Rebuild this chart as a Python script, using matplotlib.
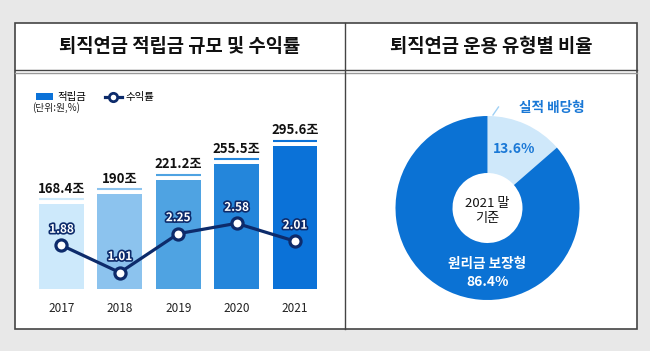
import matplotlib
matplotlib.use("Agg")
import matplotlib.pyplot as plt
import matplotlib.patheffects as pe
from matplotlib.patches import Rectangle, Patch
from matplotlib.lines import Line2D
import numpy as np

plt.rcParams["font.family"] = ["Noto Sans CJK KR", "DejaVu Sans"]

# 데이터
years = ["2017", "2018", "2019", "2020", "2021"]
reserves = [168.4, 190, 221.2, 255.5, 295.6]
reserve_labels = ["168.4조", "190조", "221.2조", "255.5조", "295.6조"]
rates = [1.88, 1.01, 2.25, 2.58, 2.01]
bar_colors = ["#cde9fb", "#8cc3ee", "#4fa3e2", "#2486db", "#0b72d8"]

pie_names = ["실적 배당형", "원리금 보장형"]
pie_values = [13.6, 86.4]
pie_colors = ["#cfe8fa", "#0b72d4"]

navy = "#0d2b6b"
W, H = 650, 351
base = -16.8  # 막대 축의 아래 끝


def fx(x):
    return x / W


def fy(y):
    return 1 - y / H


fig = plt.figure(figsize=(6.5, 3.51), dpi=100)
fig.patch.set_facecolor("#e8e8e8")

# 바깥 상자
fig.add_artist(Rectangle((fx(15), fy(329)), fx(637) - fx(15), fy(23) - fy(329),
                         transform=fig.transFigure, facecolor="white",
                         edgecolor="#444444", linewidth=1.2, zorder=0))
fig.add_artist(Line2D([fx(15), fx(637)], [fy(70), fy(70)], transform=fig.transFigure,
                      color="#444444", linewidth=1.0))
fig.add_artist(Line2D([fx(15), fx(637)], [fy(73), fy(73)], transform=fig.transFigure,
                      color="#999999", linewidth=1.0))
fig.add_artist(Line2D([fx(345), fx(345)], [fy(23), fy(329)], transform=fig.transFigure,
                      color="#444444", linewidth=1.0))

fig.text(fx(180), fy(46), "퇴직연금 적립금 규모 및 수익률", ha="center", va="center",
         fontsize=13.5, fontweight="black", color="#111111")
fig.text(fx(491), fy(46), "퇴직연금 운용 유형별 비율", ha="center", va="center",
         fontsize=13.5, fontweight="black", color="#111111")

# 막대 + 선 그래프
ax = fig.add_axes([fx(32.3), fy(289), fx(324.2) - fx(32.3), fy(80) - fy(289)])
x = np.arange(len(years))
ax.bar(x, np.array(reserves) - base, width=0.77, color=bar_colors, bottom=base)
ax.set_xlim(-0.5, 4.5)
ax.set_ylim(base, 438.9)
for i, v in enumerate(reserves):
    ax.plot([i - 0.385, i + 0.385], [v + 11, v + 11], color=bar_colors[i], linewidth=1.5,
            solid_capstyle="butt")
    ax.annotate(reserve_labels[i], (i, v + 11), xytext=(0, 2.5), textcoords="offset points",
                ha="center", va="bottom", fontsize=9.5, fontweight="black", color="#111111")
ax.set_xticks(x)
ax.set_xticklabels(years, fontsize=8.5, color="#222222")
ax.tick_params(axis="x", length=0, pad=9)
ax.set_yticks([])
for s in ax.spines.values():
    s.set_visible(False)
ax.patch.set_alpha(0)

ax2 = ax.twinx()
ax2.plot(x, rates, color=navy, linewidth=2.3, marker="o", markersize=8,
         markerfacecolor="white", markeredgecolor=navy, markeredgewidth=2.3, zorder=5)
ax2.set_ylim(0.486, 7.15)
ax2.set_yticks([])
for s in ax2.spines.values():
    s.set_visible(False)
for i, r in enumerate(rates):
    ax2.annotate(f"{r:.2f}", (i, r), xytext=(0, 11.5), textcoords="offset points",
                 ha="center", va="center", fontsize=8.5, fontweight="bold", color="white",
                 path_effects=[pe.withStroke(linewidth=2.4, foreground=navy)])

handles = [Patch(facecolor="#0b72d8", edgecolor="none", label="적립금"),
           Line2D([], [], color=navy, linewidth=2.3, marker="o", markersize=6,
                  markerfacecolor="white", markeredgecolor=navy, markeredgewidth=2,
                  label="수익률")]
ax.legend(handles=handles, loc="upper left", bbox_to_anchor=(fx(27), fy(83)),
          bbox_transform=fig.transFigure, ncol=2, frameon=False, fontsize=7.5,
          handlelength=1.6, handleheight=0.6, columnspacing=1.8, handletextpad=0.4)
fig.text(fx(32), fy(108), "(단위:원,%)", ha="left", va="center", fontsize=7,
         color="#222222")

# 도넛 차트
pax = fig.add_axes([fx(387.5), fy(308), fx(200), fy(0) - fy(200)])
pax.pie(pie_values, colors=pie_colors, startangle=90, counterclock=False,
        radius=0.92, wedgeprops=dict(width=0.57, edgecolor="none"))
pax.set_xlim(-1, 1)
pax.set_ylim(-1, 1)
pax.set_aspect("equal")
pax.axis("off")

mid = np.deg2rad(90 - pie_values[0] / 100 * 360 / 2)
pax.text(0.65 * np.cos(mid), 0.65 * np.sin(mid), f"{pie_values[0]}%", ha="center",
         va="center", fontsize=10, fontweight="bold", color="#1a78d6")
pax.text(0.0, -0.56, pie_names[1], ha="center", va="center", fontsize=9.8,
         fontweight="bold", color="white")
pax.text(0.0, -0.74, f"{pie_values[1]}%", ha="center", va="center", fontsize=10,
         fontweight="bold", color="white")
pax.text(0.0, -0.03, "2021 말\n기준", ha="center", va="center", fontsize=9.5,
         color="#111111", linespacing=1.2)
pax.plot([0.055, 0.11], [0.93, 1.01], color="#9fd0f5", linewidth=1, clip_on=False)
pax.text(0.64, 1.0, pie_names[0], ha="center", va="center", fontsize=9.8,
         fontweight="bold", color="#1a78d6", clip_on=False)

fig.savefig("out.png", dpi=100, facecolor=fig.get_facecolor())
